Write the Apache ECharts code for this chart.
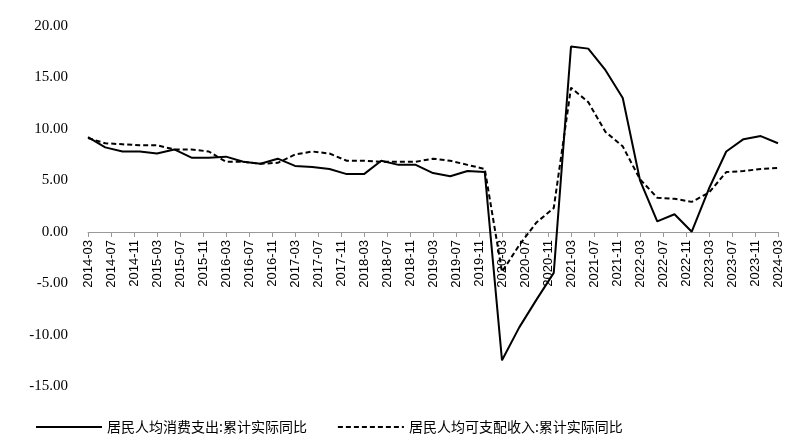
<!DOCTYPE html>
<html><head><meta charset="utf-8">
<script src="https://cdn.jsdelivr.net/npm/echarts@6/dist/echarts.min.js"></script>
<style>html,body{margin:0;padding:0;background:#fff}#c{width:810px;height:447px}</style>
</head><body><div id="c"></div>
<script>
// quarterly values, 2014-03 .. 2024-03
const consumption = [9.2,8.2,7.8,7.8,7.6,8.0,7.2,7.2,7.3,6.8,6.6,7.1,6.4,6.3,6.1,5.6,5.6,6.9,6.5,6.5,5.7,5.4,5.9,5.8,-12.5,-9.3,-6.6,-4.0,18.0,17.8,15.7,13.0,5.0,1.0,1.7,0.0,4.2,7.8,9.0,9.3,8.6];
const income = [9.1,8.6,8.5,8.4,8.4,8.0,8.0,7.8,6.8,6.8,6.6,6.7,7.5,7.8,7.6,6.9,6.9,6.8,6.8,6.8,7.1,6.9,6.5,6.1,-3.9,-1.3,0.9,2.3,14.0,12.6,9.7,8.3,5.1,3.3,3.2,2.9,3.8,5.8,5.9,6.1,6.2];
const seriesNames = ['居民人均消费支出:累计实际同比','居民人均可支配收入:累计实际同比'];
const months = [];
for (let y = 2014; y <= 2024; y++) for (let m = 1; m <= 12; m++) {
  if ((y === 2014 && m < 3) || (y === 2024 && m > 3)) continue;
  months.push(y + '-' + String(m).padStart(2, '0'));
}
function expand(vals) {
  return months.map(function (mo) {
    const y = +mo.slice(0, 4), m = +mo.slice(5);
    if (m % 3 !== 0) return null;
    return vals[(y - 2014) * 4 + (m / 3) - 1];
  });
}
const chart = echarts.init(document.getElementById('c'));
chart.setOption({
  animation: false,
  grid: {left: 88, right: 32, top: 26, bottom: 61},
  legend: {
    bottom: 8, left: 30, itemWidth: 66, itemHeight: 10, itemGap: 30,
    itemStyle: {color: 'transparent', borderWidth: 0},
    textStyle: {fontFamily: 'Noto Sans CJK SC', fontSize: 14, color: '#000'},
    data: seriesNames
  },
  xAxis: {
    type: 'category', data: months, boundaryGap: false,
    axisLine: {onZero: false, lineStyle: {color: '#999'}},
    offset: -154,
    axisTick: {interval: 3, inside: false, length: 5, lineStyle: {color: '#999'}},
    axisLabel: {interval: 3, rotate: 90, fontFamily: 'Liberation Sans', fontSize: 13, color: '#000', margin: 8}
  },
  yAxis: {
    type: 'value', min: -15, max: 20, interval: 5,
    splitLine: {show: false}, axisLine: {show: false}, axisTick: {show: false},
    axisLabel: {formatter: function (v) { return v.toFixed(2); }, fontFamily: 'Liberation Serif', fontSize: 15, color: '#000', margin: 20}
  },
  series: [
    {name: seriesNames[0], type: 'line', data: expand(consumption), connectNulls: true, showSymbol: false, symbol: 'none',
     lineStyle: {color: '#000', width: 2}, itemStyle: {color: '#000'}},
    {name: seriesNames[1], type: 'line', data: expand(income), connectNulls: true, showSymbol: false, symbol: 'none',
     lineStyle: {color: '#000', width: 2, type: [5, 3]}, itemStyle: {color: '#000'}}
  ]
});
</script></body></html>
